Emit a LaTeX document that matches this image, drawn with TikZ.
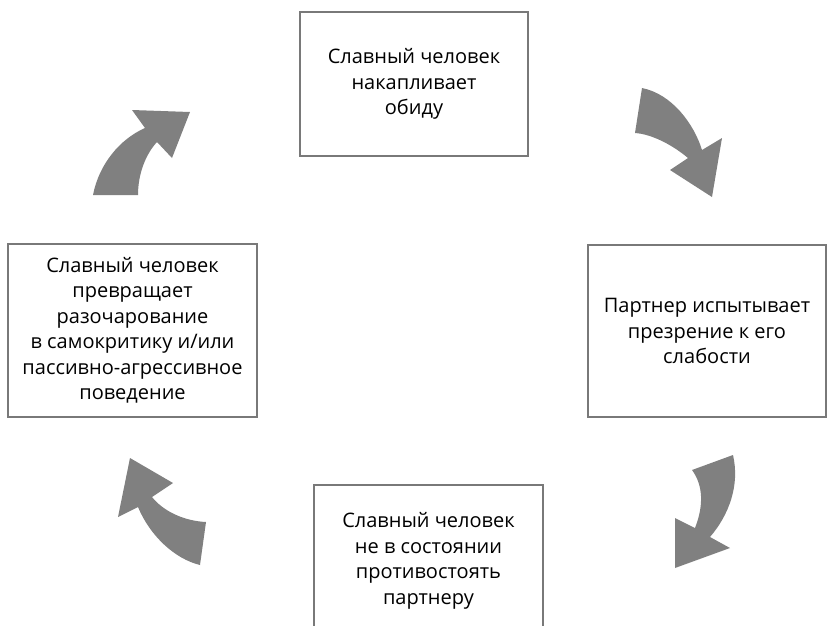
\documentclass[tikz,border=0pt]{standalone}
\usepackage{fontspec}
\setmainfont{Open Sans}
\usetikzlibrary{positioning}

\begin{document}
\begin{tikzpicture}[
    x=1pt, y=-1pt,
    stage/.style={rectangle, draw=gray!95!black, line width=1.6pt, align=center, inner sep=0pt,
        font=\fontsize{20}{25.5}\selectfont},
    turn/.style={fill=gray, draw=none}
]
    \useasboundingbox (0,0) rectangle (828,625);

    % Blocs du cycle
    \node[stage, minimum width=228pt, minimum height=144pt] (hurt) at (414,84) {Славный человек\\накапливает\\обиду};
    \node[stage, minimum width=238pt, minimum height=172pt] (scorn) at (707,331) {Партнер испытывает\\презрение к его\\слабости};
    \node[stage, minimum width=229pt, minimum height=152pt] (weak) at (428.5,561) {Славный человек\\не в состоянии\\противостоять\\партнеру};
    \node[stage, minimum width=249pt, minimum height=173pt] (turnin) at (132.5,330.5) {Славный человек\\превращает\\разочарование\\в самокритику и/или\\пассивно-агрессивное\\поведение};

    % Flèches
    \fill[turn] (642,88) .. controls (672,94) and (694,124) .. (702,150) -- (722,138) -- (712,197) -- (670,170) -- (688,158)
        .. controls (670,143) and (650,134) .. (635,133) -- cycle;
    \fill[turn] (733,455) .. controls (740,485) and (729,515) .. (710,537) -- (730,548) -- (675,568) -- (675,518) -- (695,528)
        .. controls (704,505) and (703,485) .. (692,470) -- cycle;
    \fill[turn] (206,522) .. controls (185,521) and (164,512) .. (152,497) -- (173,483) -- (130,458) -- (118,517) -- (138,507)
        .. controls (150,536) and (175,559) .. (200,565) -- cycle;
    \fill[turn] (93,195) .. controls (99,164) and (120,139) .. (145,128) -- (132,110) -- (190,112) -- (172,158) -- (157,142)
        .. controls (145,155) and (138,175) .. (138,195) -- cycle;

\end{tikzpicture}
\end{document}
